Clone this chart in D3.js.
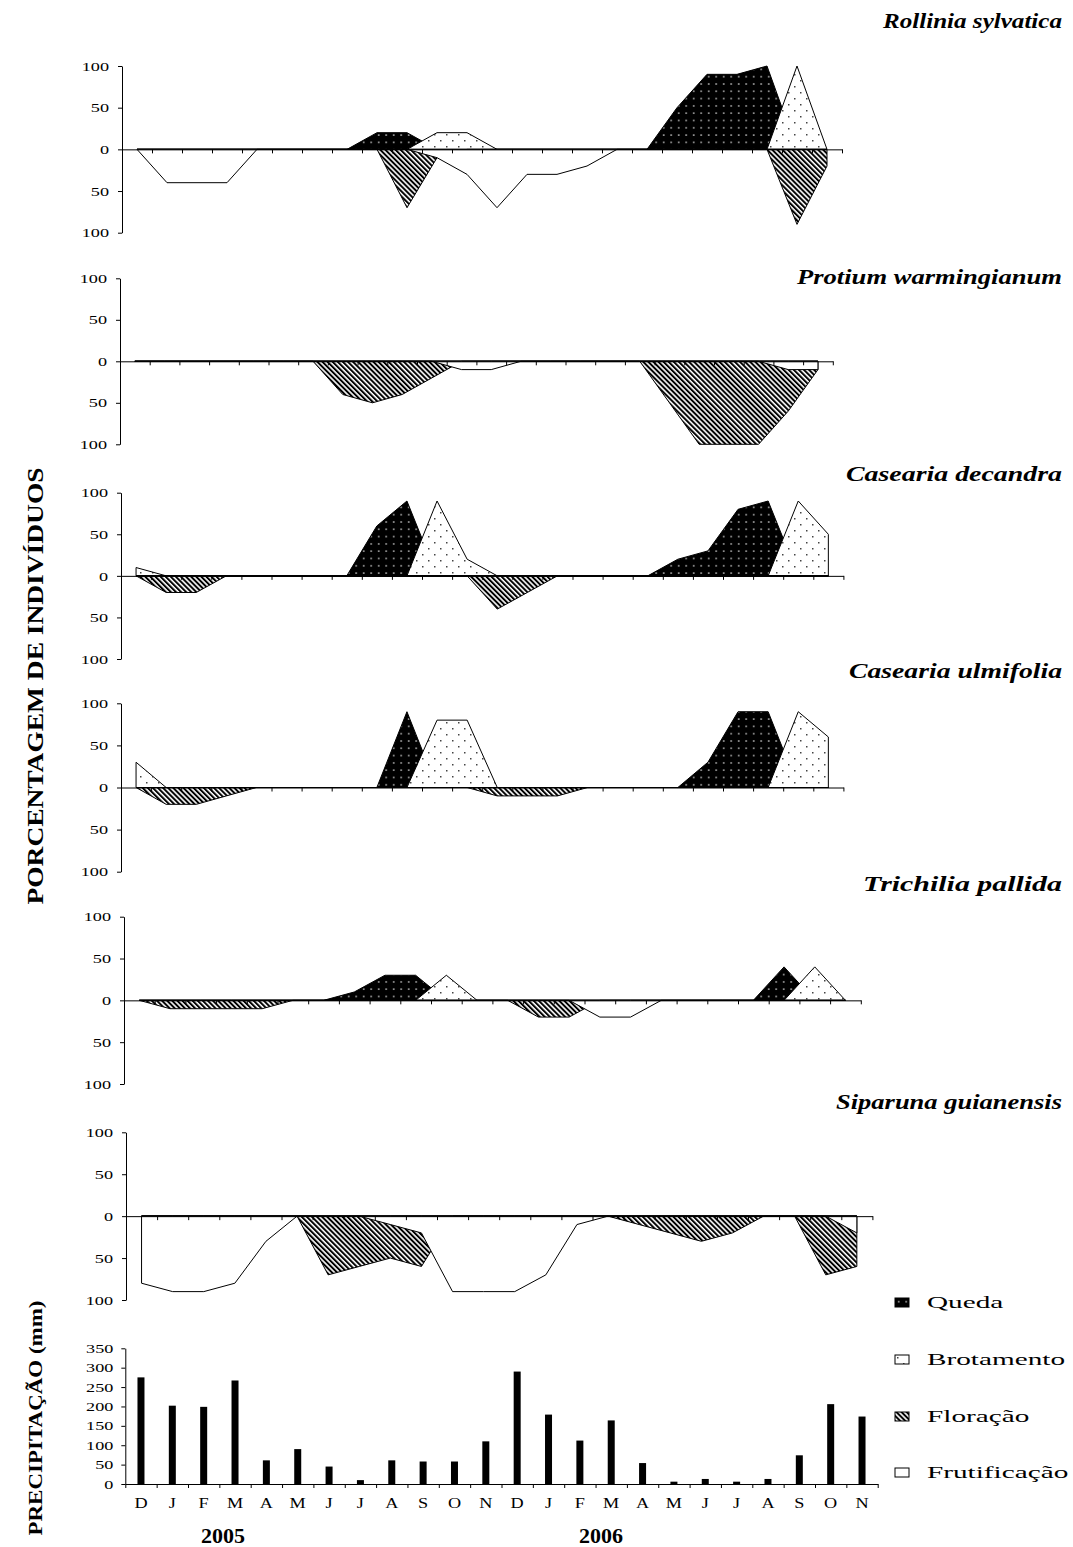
<!DOCTYPE html>
<html>
<head>
<meta charset="utf-8">
<script src="https://cdn.jsdelivr.net/npm/d3@7"></script>
<style>
  body { margin: 0; background: #fff; }
  svg { display: block; }
  text { font-family: "Liberation Serif", "Times New Roman", serif; fill: #000; }
</style>
</head>
<body>
<div id="chart"></div>
<script>
// Month labels (Dec 2004 .. Nov 2006) and year labels
var months = ["D", "J", "F", "M", "A", "M", "J", "J", "A", "S", "O", "N",
              "D", "J", "F", "M", "A", "M", "J", "J", "A", "S", "O", "N"];
var years = ["2005", "2006"];
var phases = ["Queda", "Brotamento", "Floração", "Frutificação"];
var yTicks = [-100, -50, 0, 50, 100];
var precipTicks = [0, 50, 100, 150, 200, 250, 300, 350];

// % of individuals per phase (Floração / Frutificação drawn downwards)
var rolliniaQueda        = [0,0,0,0,0,0,0,0,20,20,0,0,0,0,0,0,0,0,50,90,90,100,0,0];
var rolliniaBrotamento   = [0,0,0,0,0,0,0,0,0,0,20,20,0,0,0,0,0,0,0,0,0,0,100,0];
var rolliniaFloracao     = [0,0,0,0,0,0,0,0,0,70,10,0,0,0,0,0,0,0,0,0,0,0,90,20];
var rolliniaFrutificacao = [0,40,40,40,0,0,0,0,0,0,10,30,70,30,30,20,0,0,0,0,0,0,0,0];

var protiumQueda        = [0,0,0,0,0,0,0,0,0,0,0,0,0,0,0,0,0,0,0,0,0,0,0,0];
var protiumBrotamento   = [0,0,0,0,0,0,0,0,0,0,0,0,0,0,0,0,0,0,0,0,0,0,0,0];
var protiumFloracao     = [0,0,0,0,0,0,0,40,50,40,20,0,0,0,0,0,0,0,50,100,100,100,60,10];
var protiumFrutificacao = [0,0,0,0,0,0,0,0,0,0,0,10,10,0,0,0,0,0,0,0,0,0,10,10];

var decandraQueda        = [0,0,0,0,0,0,0,0,60,90,0,0,0,0,0,0,0,0,20,30,80,90,0,0];
var decandraBrotamento   = [10,0,0,0,0,0,0,0,0,0,90,20,0,0,0,0,0,0,0,0,0,0,90,50];
var decandraFloracao     = [0,20,20,0,0,0,0,0,0,0,0,0,40,20,0,0,0,0,0,0,0,0,0,0];
var decandraFrutificacao = [0,0,0,0,0,0,0,0,0,0,0,0,0,0,0,0,0,0,0,0,0,0,0,0];

var ulmifoliaQueda        = [0,0,0,0,0,0,0,0,0,90,0,0,0,0,0,0,0,0,0,30,90,90,0,0];
var ulmifoliaBrotamento   = [30,0,0,0,0,0,0,0,0,0,80,80,0,0,0,0,0,0,0,0,0,0,90,60];
var ulmifoliaFloracao     = [0,20,20,10,0,0,0,0,0,0,0,0,10,10,10,0,0,0,0,0,0,0,0,0];
var ulmifoliaFrutificacao = [0,0,0,0,0,0,0,0,0,0,0,0,0,0,0,0,0,0,0,0,0,0,0,0];

var trichiliaQueda        = [0,0,0,0,0,0,0,10,30,30,0,0,0,0,0,0,0,0,0,0,0,40,0,0];
var trichiliaBrotamento   = [0,0,0,0,0,0,0,0,0,0,30,0,0,0,0,0,0,0,0,0,0,0,40,0];
var trichiliaFloracao     = [0,10,10,10,10,0,0,0,0,0,0,0,0,20,20,0,0,0,0,0,0,0,0,0];
var trichiliaFrutificacao = [0,0,0,0,0,0,0,0,0,0,0,0,0,0,0,20,20,0,0,0,0,0,0,0];

var siparunaQueda        = [0,0,0,0,0,0,0,0,0,0,0,0,0,0,0,0,0,0,0,0,0,0,0,0];
var siparunaBrotamento   = [0,0,0,0,0,0,0,0,0,0,0,0,0,0,0,0,0,0,0,0,0,0,0,0];
var siparunaFloracao     = [0,0,0,0,0,0,70,60,50,60,0,0,0,0,0,0,10,20,30,20,0,0,70,60];
var siparunaFrutificacao = [80,90,90,80,30,0,0,0,10,20,90,90,90,70,10,0,0,0,0,0,0,0,0,20];

// Monthly rainfall (mm)
var precipitacao = [275,202,199,267,61,90,45,10,61,58,58,110,290,179,112,164,54,6,13,6,13,74,206,174];

// Panel layout (each Excel chart was pasted with its own size)
var panels = [
  { name: "Rollinia sylvatica", series: [rolliniaQueda, rolliniaBrotamento, rolliniaFloracao, rolliniaFrutificacao],
    left: 122, step: 30, top: 66, bottom: 232.7, titleY: 28, titleW: 179 },
  { name: "Protium warmingianum", series: [protiumQueda, protiumBrotamento, protiumFloracao, protiumFrutificacao],
    left: 120, step: 29.7, top: 278.3, bottom: 444.3, titleY: 284, titleW: 265 },
  { name: "Casearia decandra", series: [decandraQueda, decandraBrotamento, decandraFloracao, decandraFrutificacao],
    left: 121, step: 30.1, top: 492.7, bottom: 659, titleY: 481, titleW: 216 },
  { name: "Casearia ulmifolia", series: [ulmifoliaQueda, ulmifoliaBrotamento, ulmifoliaFloracao, ulmifoliaFrutificacao],
    left: 121, step: 30.1, top: 703.3, bottom: 871.7, titleY: 678, titleW: 213 },
  { name: "Trichilia pallida", series: [trichiliaQueda, trichiliaBrotamento, trichiliaFloracao, trichiliaFrutificacao],
    left: 124, step: 30.7, top: 916.7, bottom: 1084, titleY: 891, titleW: 199 },
  { name: "Siparuna guianensis", series: [siparunaQueda, siparunaBrotamento, siparunaFloracao, siparunaFrutificacao],
    left: 126, step: 31.1, top: 1132.3, bottom: 1300, titleY: 1109, titleW: 226 }
];

var W = 1073, H = 1547;
var svg = d3.select("#chart").append("svg")
    .attr("width", W)
    .attr("height", H);

// Fill patterns for the four phases
var defs = svg.append("defs");

var pQueda = defs.append("pattern").attr("id", "queda")
    .attr("patternUnits", "userSpaceOnUse").attr("width", 7.5).attr("height", 7.3);
pQueda.append("rect").attr("width", 7.5).attr("height", 7.3).attr("fill", "#000");
pQueda.append("rect").attr("x", 3).attr("y", 3).attr("width", 1.4).attr("height", 1.4).attr("fill", "#e0e0e0");

var pBrot = defs.append("pattern").attr("id", "brot")
    .attr("patternUnits", "userSpaceOnUse").attr("width", 12).attr("height", 12);
pBrot.append("rect").attr("width", 12).attr("height", 12).attr("fill", "#fff");
pBrot.append("rect").attr("x", 2).attr("y", 2).attr("width", 1.5).attr("height", 1.5).attr("fill", "#444");
pBrot.append("rect").attr("x", 8).attr("y", 8).attr("width", 1.5).attr("height", 1.5).attr("fill", "#444");

var pFlor = defs.append("pattern").attr("id", "flor")
    .attr("patternUnits", "userSpaceOnUse").attr("width", 3.6).attr("height", 3.6)
    .attr("patternTransform", "rotate(-45)");
pFlor.append("rect").attr("width", 3.6).attr("height", 3.6).attr("fill", "#fff");
pFlor.append("line").attr("x1", 1).attr("x2", 1).attr("y1", 0).attr("y2", 3.6)
    .attr("stroke", "#000").attr("stroke-width", 2);

var fills = ["url(#queda)", "url(#brot)", "url(#flor)", "#fff"];
var signs = [1, 1, -1, -1];

// Stretch a text to k times its natural width (the figure is wider than tall)
function stretch(sel, k) {
  sel.each(function () {
    var w = this.getComputedTextLength();
    d3.select(this).attr("textLength", w * k).attr("lengthAdjust", "spacingAndGlyphs");
  });
}

panels.forEach(function (p) {
  var g = svg.append("g");
  var x = d3.scaleBand().domain(d3.range(months.length))
      .range([p.left, p.left + p.step * months.length]);
  var xEdge = d3.scaleLinear().domain([0, months.length]).range(x.range());
  var y = d3.scaleLinear().domain([-100, 100]).range([p.bottom, p.top]);
  var cx = function (i) { return x(i) + x.bandwidth() / 2; };

  p.series.forEach(function (vals, s) {
    var area = d3.area()
        .x(function (d, i) { return cx(i); })
        .y0(y(0))
        .y1(function (d) { return y(signs[s] * d); });
    g.append("path")
        .datum(vals)
        .attr("d", area)
        .attr("fill", fills[s])
        .attr("stroke", "#000")
        .attr("stroke-width", 1)
        .attr("stroke-linejoin", "miter");
  });

  // horizontal axis at zero with ticks between months
  var xa = g.append("g")
      .attr("transform", "translate(0," + y(0) + ")")
      .call(d3.axisBottom(xEdge).tickValues(d3.range(1, months.length + 1))
          .tickFormat("").tickSize(4).tickSizeOuter(0));
  xa.selectAll("line, path").attr("stroke", "#000");

  // vertical axis
  var ya = g.append("g")
      .attr("transform", "translate(" + p.left + ",0)")
      .call(d3.axisLeft(y).tickValues(yTicks).tickFormat(function (d) { return Math.abs(d); })
          .tickSize(4).tickSizeOuter(0).tickPadding(9));
  ya.selectAll("line, path").attr("stroke", "#000");
  ya.selectAll("text")
      .attr("font-family", "Liberation Serif")
      .attr("font-size", 13)
      .call(stretch, 1.4);

  g.append("text")
      .attr("x", 1062)
      .attr("y", p.titleY)
      .attr("text-anchor", "end")
      .attr("font-size", 22)
      .attr("font-weight", "bold")
      .attr("font-style", "italic")
      .attr("textLength", p.titleW)
      .attr("lengthAdjust", "spacingAndGlyphs")
      .text(p.name);
});

// Precipitation bars
var bx = d3.scaleBand().domain(d3.range(months.length)).range([125.3, 125.3 + 31.35 * months.length]);
var bxEdge = d3.scaleLinear().domain([0, months.length]).range(bx.range());
var by = d3.scaleLinear().domain([0, 350]).range([1484, 1348.3]);
var gb = svg.append("g");

gb.selectAll("rect.bar")
    .data(precipitacao)
    .enter()
    .append("rect")
    .attr("class", "bar")
    .attr("x", function (d, i) { return bx(i) + bx.bandwidth() / 2 - 3.5; })
    .attr("y", function (d) { return by(d); })
    .attr("width", 7)
    .attr("height", function (d) { return by(0) - by(d); })
    .attr("fill", "#000");

var bxa = gb.append("g")
    .attr("transform", "translate(0," + by(0) + ")")
    .call(d3.axisBottom(bxEdge).tickValues(d3.range(0, months.length + 1))
        .tickFormat("").tickSize(4).tickSizeOuter(0));
bxa.selectAll("line, path").attr("stroke", "#000");

var bya = gb.append("g")
    .attr("transform", "translate(" + bx.range()[0] + ",0)")
    .call(d3.axisLeft(by).tickValues(precipTicks).tickSize(4).tickSizeOuter(0).tickPadding(8));
bya.selectAll("line, path").attr("stroke", "#000");
bya.selectAll("text")
    .attr("font-family", "Liberation Serif")
    .attr("font-size", 12.5)
    .call(stretch, 1.45);

gb.selectAll("text.month")
    .data(months)
    .enter()
    .append("text")
    .attr("class", "month")
    .attr("x", function (d, i) { return bx(i) + bx.bandwidth() / 2; })
    .attr("y", 1508)
    .attr("text-anchor", "middle")
    .attr("font-size", 14)
    .text(function (d) { return d; })
    .call(stretch, 1.3);

gb.selectAll("text.year")
    .data(years)
    .enter()
    .append("text")
    .attr("class", "year")
    .attr("x", function (d, i) { return [223, 601][i]; })
    .attr("y", 1543)
    .attr("text-anchor", "middle")
    .attr("font-size", 22)
    .attr("font-weight", "bold")
    .text(function (d) { return d; });

// Vertical axis titles
svg.append("text")
    .attr("transform", "translate(43,686) rotate(-90)")
    .attr("text-anchor", "middle")
    .attr("font-size", 24)
    .attr("font-weight", "bold")
    .attr("textLength", 437)
    .attr("lengthAdjust", "spacingAndGlyphs")
    .text("PORCENTAGEM DE INDIVÍDUOS");

svg.append("text")
    .attr("transform", "translate(42,1418) rotate(-90)")
    .attr("text-anchor", "middle")
    .attr("font-size", 19)
    .attr("font-weight", "bold")
    .attr("textLength", 235)
    .attr("lengthAdjust", "spacingAndGlyphs")
    .text("PRECIPITAÇÃO (mm)");

// Legend
var legend = svg.append("g").attr("transform", "translate(895,1298)");
var items = legend.selectAll("g")
    .data(phases)
    .enter()
    .append("g")
    .attr("transform", function (d, i) { return "translate(0," + [0, 57, 114, 170][i] + ")"; });
items.append("rect")
    .attr("width", 14)
    .attr("height", 9)
    .attr("fill", function (d, i) { return fills[i]; })
    .attr("stroke", "#000")
    .attr("stroke-width", 1);
items.append("text")
    .attr("x", 32)
    .attr("y", 9.5)
    .attr("font-size", 17)
    .text(function (d) { return d; })
    .call(stretch, 1.72);
</script>
</body>
</html>
